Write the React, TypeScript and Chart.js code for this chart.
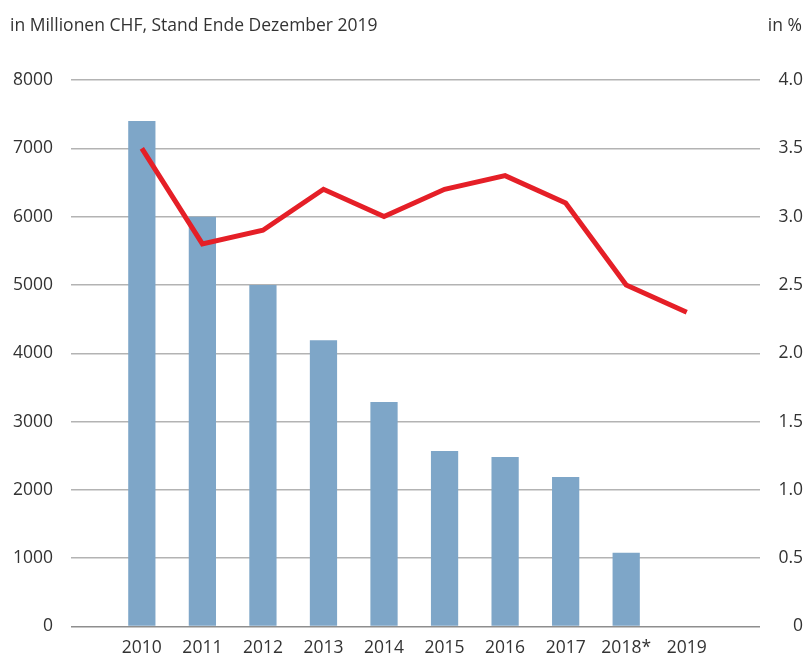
import React, { useEffect, useRef } from "react";
import { Chart, registerables } from "chart.js";

Chart.register(...registerables);

const categories = ["2010", "2011", "2012", "2013", "2014", "2015", "2016", "2017", "2018*", "2019"];
const volumeMioCHF = [7400, 6000, 5000, 4190, 3285, 2570, 2480, 2190, 1080, null];
const ratePercent = [3.5, 2.8, 2.9, 3.2, 3.0, 3.2, 3.3, 3.1, 2.5, 2.3];
const leftTitle = "in Millionen CHF, Stand Ende Dezember 2019";
const rightTitle = "in %";

const FONT = "'Open Sans', 'Noto Sans', sans-serif";
const TEXT = "#333333";
const FS = 17.5;

const headerPlugin = {
  id: "header",
  afterDraw(chart: any) {
    const ctx = chart.ctx;
    ctx.save();
    ctx.font = `${FS}px ${FONT}`;
    ctx.fillStyle = TEXT;
    ctx.textBaseline = "alphabetic";
    ctx.textAlign = "left";
    ctx.fillText(leftTitle, 10, 31);
    ctx.textAlign = "right";
    ctx.fillText(rightTitle, 802, 31);
    ctx.restore();
  },
};

export default function App() {
  const ref = useRef<HTMLCanvasElement>(null);
  useEffect(() => {
    const chart = new Chart(ref.current!, {
      type: "bar",
      data: {
        datasets: [
          {
            type: "line",
            data: ratePercent.map((v, i) => ({ x: i, y: v })),
            yAxisID: "y1",
            borderColor: "#e51f27",
            borderWidth: 5,
            pointRadius: 0,
            tension: 0,
            fill: false,
          } as any,
          {
            type: "bar",
            data: volumeMioCHF.map((v, i) => ({ x: i, y: v })),
            yAxisID: "y",
            backgroundColor: "#7ea6c8",
            categoryPercentage: 1,
            barPercentage: 0.45,
          } as any,
        ],
      },
      options: {
        animation: false,
        responsive: false,
        maintainAspectRatio: false,
        layout: { padding: { top: 80, right: 3, left: 0, bottom: 0 } },
        plugins: { legend: { display: false }, tooltip: { enabled: false }, title: { display: false } },
        scales: {
          x: {
            type: "linear",
            offset: false,
            min: -1.17,
            max: 10.21,
            grid: { display: false, drawTicks: false },
            border: { display: false },
            afterBuildTicks: (scale: any) => {
              scale.ticks = categories.map((_, i) => ({ value: i }));
            },
            afterFit: (scale: any) => {
              scale.height = 28;
            },
            ticks: {
              autoSkip: false,
              maxRotation: 0,
              padding: 11,
              color: TEXT,
              font: { family: FONT, size: FS },
              callback: (v: any) => categories[v] ?? "",
            },
          },
          y: {
            position: "left",
            min: 0,
            max: 8000,
            afterFit: (scale: any) => {
              scale.width = 71;
            },
            ticks: {
              stepSize: 1000,
              padding: 18,
              color: TEXT,
              font: { family: FONT, size: FS },
              callback: (v: any) => String(v),
            },
            grid: {
              color: (c: any) => (c.tick && c.tick.value === 0 ? "#8e8e8e" : "#b3b3b3"),
              lineWidth: 1.5,
              drawTicks: false,
            },
            border: { display: false },
          },
          y1: {
            position: "right",
            min: 0,
            max: 4,
            afterFit: (scale: any) => {
              scale.width = 43;
            },
            ticks: {
              stepSize: 0.5,
              crossAlign: "far",
              color: TEXT,
              font: { family: FONT, size: FS },
              callback: (v: any) => (v === 0 ? "0" : Number(v).toFixed(1)),
            },
            grid: { display: false, drawTicks: false },
            border: { display: false },
          },
        },
      } as any,
      plugins: [headerPlugin],
    });
    return () => chart.destroy();
  }, []);
  return (
    <div style={{ position: "absolute", left: 0, top: 0, width: 806, height: 655, background: "#fff" }}>
      <canvas ref={ref} width={806} height={655} style={{ width: 806, height: 655 }} />
    </div>
  );
}
